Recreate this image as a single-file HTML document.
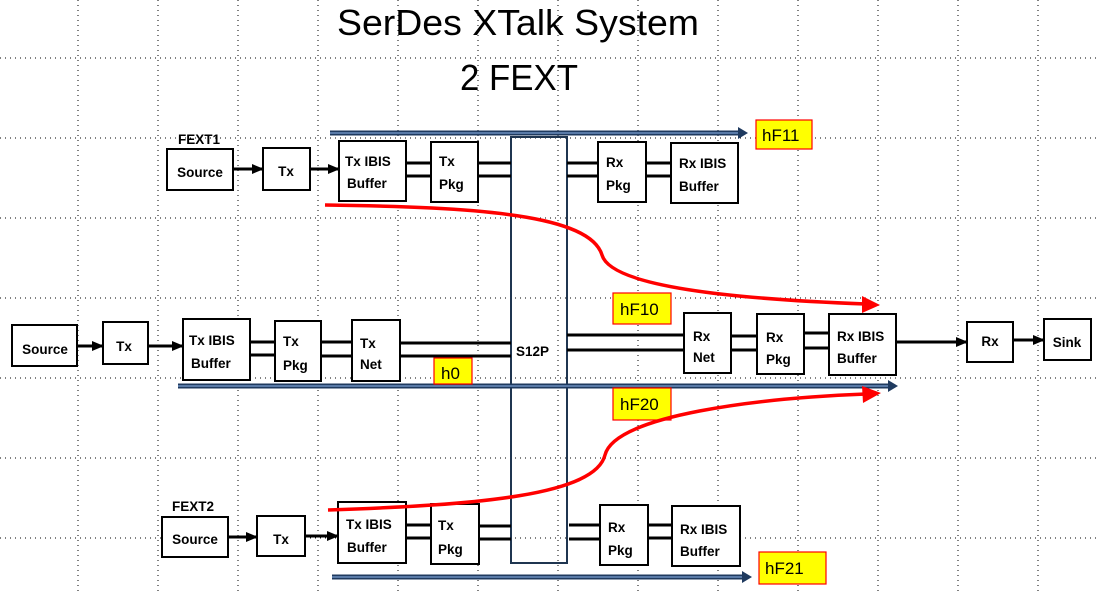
<!DOCTYPE html>
<html><head><meta charset="utf-8"><style>
html,body{margin:0;padding:0;background:#fff;}
svg{display:block;}
.b{fill:#fff;stroke:#000;stroke-width:2;}
.t{font-family:"Liberation Sans",sans-serif;font-size:13.5px;font-weight:bold;fill:#000;}
.l{stroke:#000;stroke-width:3;fill:none;}
.lab{fill:#ffff00;stroke:#ff0000;stroke-width:1.2;}
.lt{font-family:"Liberation Sans",sans-serif;font-size:17px;fill:#000;}
.g{stroke:#000;stroke-width:1;stroke-dasharray:1 4;}
</style></head><body>
<svg width="1098" height="592" viewBox="0 0 1098 592" xmlns="http://www.w3.org/2000/svg">
<defs>
<marker id="ba" markerWidth="12" markerHeight="10" refX="10" refY="5" orient="auto" markerUnits="userSpaceOnUse"><path d="M0,0 L12,5 L0,10 Z" fill="#000"/></marker>
</defs>
<!-- grid -->
<g class="g">
<line x1="0" y1="58" x2="1098" y2="58"/><line x1="0" y1="138" x2="1098" y2="138"/><line x1="0" y1="218" x2="1098" y2="218"/><line x1="0" y1="298" x2="1098" y2="298"/><line x1="0" y1="378" x2="1098" y2="378"/><line x1="0" y1="458" x2="1098" y2="458"/><line x1="0" y1="538" x2="1098" y2="538"/>
<line x1="78" y1="0" x2="78" y2="592"/><line x1="158" y1="0" x2="158" y2="592"/><line x1="238" y1="0" x2="238" y2="592"/><line x1="318" y1="0" x2="318" y2="592"/><line x1="398" y1="0" x2="398" y2="592"/><line x1="478" y1="0" x2="478" y2="592"/><line x1="558" y1="0" x2="558" y2="592"/><line x1="638" y1="0" x2="638" y2="592"/><line x1="718" y1="0" x2="718" y2="592"/><line x1="798" y1="0" x2="798" y2="592"/><line x1="878" y1="0" x2="878" y2="592"/><line x1="958" y1="0" x2="958" y2="592"/><line x1="1038" y1="0" x2="1038" y2="592"/>
</g>
<!-- title -->
<text x="518" y="35" text-anchor="middle" font-family="Liberation Sans,sans-serif" font-size="36" textLength="362" lengthAdjust="spacingAndGlyphs">SerDes XTalk System</text>
<text x="519" y="90" text-anchor="middle" font-family="Liberation Sans,sans-serif" font-size="36" textLength="118" lengthAdjust="spacingAndGlyphs">2 FEXT</text>

<!-- S12P tall box -->
<rect x="511" y="137" width="56" height="426" fill="none" stroke="#1f3550" stroke-width="2"/>

<!-- blue arrows -->
<g>
<line x1="330" y1="133" x2="742" y2="133" stroke="#1f3a5f" stroke-width="5"/><line x1="330" y1="133" x2="742" y2="133" stroke="#6d8fbf" stroke-width="1.5"/><path d="M738,127 L748,133 L738,139 Z" fill="#1f3a5f"/>
<line x1="178" y1="386" x2="892" y2="386" stroke="#1f3a5f" stroke-width="5"/><line x1="178" y1="386" x2="892" y2="386" stroke="#6d8fbf" stroke-width="1.5"/><path d="M888,380 L898,386 L888,392 Z" fill="#1f3a5f"/>
<line x1="332" y1="577" x2="746" y2="577" stroke="#1f3a5f" stroke-width="5"/><line x1="332" y1="577" x2="746" y2="577" stroke="#6d8fbf" stroke-width="1.5"/><path d="M742,571 L752,577 L742,583 Z" fill="#1f3a5f"/>
</g>

<!-- FEXT1 row -->
<text class="t" x="178" y="144" font-size="12">FEXT1</text>
<line class="l" x1="233" y1="169" x2="262" y2="169" marker-end="url(#ba)"/>
<line class="l" x1="310" y1="169" x2="338" y2="169" marker-end="url(#ba)"/>
<g class="l"><line x1="406" y1="163" x2="431" y2="163"/><line x1="406" y1="176" x2="431" y2="176"/>
<line x1="478" y1="163" x2="511" y2="163"/><line x1="478" y1="176" x2="511" y2="176"/>
<line x1="567" y1="163" x2="598" y2="163"/><line x1="567" y1="176" x2="598" y2="176"/>
<line x1="646" y1="163" x2="671" y2="163"/><line x1="646" y1="176" x2="671" y2="176"/></g>
<rect class="b" x="167" y="149" width="66" height="41"/><text class="t" x="200" y="177" text-anchor="middle">Source</text>
<rect class="b" x="263" y="148" width="47" height="42"/><text class="t" x="286" y="176" text-anchor="middle">Tx</text>
<rect class="b" x="339" y="141" width="67" height="60"/><text class="t" x="345" y="166">Tx IBIS</text><text class="t" x="347" y="188">Buffer</text>
<rect class="b" x="431" y="142" width="47" height="60"/><text class="t" x="439" y="166">Tx</text><text class="t" x="439" y="189">Pkg</text>
<rect class="b" x="598" y="142" width="48" height="60"/><text class="t" x="606" y="167">Rx</text><text class="t" x="606" y="190">Pkg</text>
<rect class="b" x="671" y="143" width="67" height="60"/><text class="t" x="679" y="168">Rx IBIS</text><text class="t" x="679" y="191">Buffer</text>
<rect class="lab" x="756" y="120" width="56" height="29"/><text class="lt" x="762" y="141">hF11</text>

<!-- main row -->
<line class="l" x1="77" y1="346" x2="102" y2="346" marker-end="url(#ba)"/>
<line class="l" x1="148" y1="346" x2="182" y2="346" marker-end="url(#ba)"/>
<g class="l"><line x1="250" y1="342" x2="275" y2="342"/><line x1="250" y1="355" x2="275" y2="355"/>
<line x1="321" y1="342" x2="352" y2="342"/><line x1="321" y1="356" x2="352" y2="356"/>
<line x1="400" y1="343" x2="511" y2="343"/><line x1="400" y1="356" x2="511" y2="356"/>
<line x1="567" y1="335" x2="684" y2="335"/><line x1="567" y1="350" x2="684" y2="350"/>
<line x1="731" y1="336" x2="757" y2="336"/><line x1="731" y1="350" x2="757" y2="350"/>
<line x1="804" y1="333" x2="829" y2="333"/><line x1="804" y1="348" x2="829" y2="348"/></g>
<line class="l" x1="896" y1="342" x2="966" y2="342" marker-end="url(#ba)"/>
<line class="l" x1="1013" y1="340" x2="1043" y2="340" marker-end="url(#ba)"/>
<rect class="b" x="12" y="325" width="65" height="41"/><text class="t" x="45" y="354" text-anchor="middle">Source</text>
<rect class="b" x="103" y="322" width="45" height="42"/><text class="t" x="124" y="351" text-anchor="middle">Tx</text>
<rect class="b" x="183" y="319" width="67" height="61"/><text class="t" x="189" y="345">Tx IBIS</text><text class="t" x="191" y="368">Buffer</text>
<rect class="b" x="275" y="321" width="46" height="60"/><text class="t" x="283" y="346">Tx</text><text class="t" x="283" y="370">Pkg</text>
<rect class="b" x="352" y="320" width="48" height="61"/><text class="t" x="360" y="348">Tx</text><text class="t" x="360" y="369">Net</text>
<text class="t" x="516" y="356" font-size="15">S12P</text>
<rect class="b" x="684" y="313" width="47" height="60"/><text class="t" x="693" y="341">Rx</text><text class="t" x="693" y="362">Net</text>
<rect class="b" x="757" y="314" width="47" height="60"/><text class="t" x="766" y="342">Rx</text><text class="t" x="766" y="364">Pkg</text>
<rect class="b" x="829" y="314" width="67" height="61"/><text class="t" x="837" y="341">Rx IBIS</text><text class="t" x="837" y="363">Buffer</text>
<rect class="b" x="967" y="322" width="46" height="40"/><text class="t" x="990" y="346" text-anchor="middle">Rx</text>
<rect class="b" x="1044" y="319" width="47" height="41"/><text class="t" x="1067" y="347" text-anchor="middle">Sink</text>
<rect class="lab" x="434" y="358" width="38" height="26"/><text class="lt" x="441" y="379">h0</text>
<rect class="lab" x="613" y="293" width="58" height="31"/><text class="lt" x="620" y="315">hF10</text>
<rect class="lab" x="613" y="388" width="58" height="32"/><text class="lt" x="620" y="410">hF20</text>

<!-- FEXT2 row -->
<text class="t" x="172" y="511" font-size="12">FEXT2</text>
<line class="l" x1="228" y1="537" x2="256" y2="537" marker-end="url(#ba)"/>
<line class="l" x1="305" y1="536" x2="337" y2="536" marker-end="url(#ba)"/>
<g class="l"><line x1="406" y1="525" x2="431" y2="525"/><line x1="406" y1="538" x2="431" y2="538"/>
<line x1="479" y1="526" x2="511" y2="526"/><line x1="479" y1="539" x2="511" y2="539"/>
<line x1="569" y1="525" x2="600" y2="525"/><line x1="569" y1="539" x2="600" y2="539"/>
<line x1="648" y1="525" x2="672" y2="525"/><line x1="648" y1="538" x2="672" y2="538"/></g>
<rect class="b" x="162" y="517" width="66" height="40"/><text class="t" x="195" y="544" text-anchor="middle">Source</text>
<rect class="b" x="257" y="516" width="48" height="40"/><text class="t" x="281" y="544" text-anchor="middle">Tx</text>
<rect class="b" x="338" y="502" width="68" height="61"/><text class="t" x="346" y="529">Tx IBIS</text><text class="t" x="347" y="552">Buffer</text>
<rect class="b" x="431" y="504" width="48" height="60"/><text class="t" x="438" y="530">Tx</text><text class="t" x="438" y="554">Pkg</text>
<rect class="b" x="600" y="505" width="48" height="60"/><text class="t" x="608" y="532">Rx</text><text class="t" x="608" y="555">Pkg</text>
<rect class="b" x="672" y="506" width="68" height="60"/><text class="t" x="680" y="534">Rx IBIS</text><text class="t" x="680" y="556">Buffer</text>
<rect class="lab" x="759" y="552" width="67" height="32"/><text class="lt" x="765" y="574">hF21</text>

<!-- red curves -->
<path d="M325,205 C480,207 590,215 602,255 C612,290 760,300 866,304" fill="none" stroke="#ff0000" stroke-width="3.5"/>
<path d="M862,296 L880,305 L862,313 Z" fill="#ff0000"/>
<path d="M328,510 C480,505 595,495 605,455 C615,415 760,398 866,394" fill="none" stroke="#ff0000" stroke-width="3.5"/>
<path d="M862,386 L881,393 L863,403 Z" fill="#ff0000"/>
</svg>
</body></html>
